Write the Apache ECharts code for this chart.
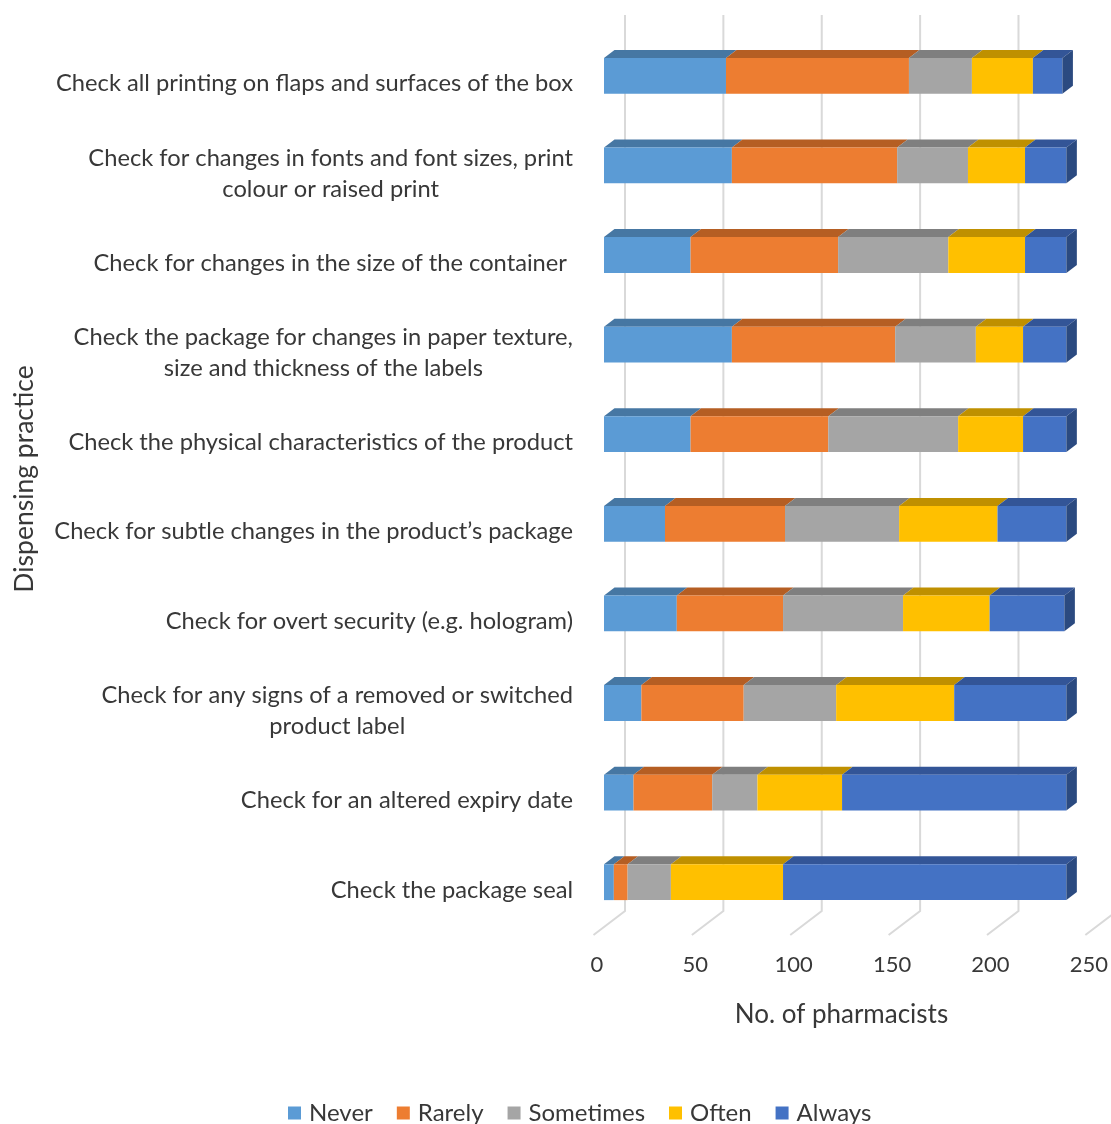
<!DOCTYPE html>
<html>
<head>
<meta charset="utf-8">
<title>Dispensing practice</title>
<script src="https://cdn.jsdelivr.net/npm/echarts@6/dist/echarts.min.js"></script>
<style>
  html, body { margin: 0; padding: 0; background: #ffffff; }
  #chart { width: 1111px; height: 1124px; }
</style>
</head>
<body>
<div id="chart"></div>
<script>
// Dispensing practices, listed top to bottom
const practices = [
  'Check all printing on flaps and surfaces of the box',
  'Check for changes in fonts and font sizes, print\ncolour or raised print',
  'Check for changes in the size of the container ',
  'Check the package for changes in paper texture,\nsize and thickness of the labels',
  'Check the physical characteristics of the product',
  'Check for subtle changes in the product\u2019s package',
  'Check for overt security (e.g. hologram)',
  'Check for any signs of a removed or switched\nproduct label',
  'Check for an altered expiry date',
  'Check the package seal'
];

// Number of pharmacists giving each answer
const levels = ['Never', 'Rarely', 'Sometimes', 'Often', 'Always'];
const never     = [62, 65, 44, 65, 44, 31, 37, 19, 15, 5];
const rarely    = [93, 84, 75, 83, 70, 61, 54, 52, 40, 7];
const sometimes = [32, 36, 56, 41, 66, 58, 61, 47, 23, 22];
const often     = [31, 29, 39, 24, 33, 50, 44, 60, 43, 57];
const always    = [15, 21, 21, 22, 22, 35, 38, 57, 114, 144];
const xTicks = [0, 50, 100, 150, 200, 250];

const levelValues = [never, rarely, sometimes, often, always];

// Face colours of the 3D blocks
const frontColors = ['#5b9bd5', '#ed7d31', '#a5a5a5', '#ffc000', '#4472c4'];
const topColors   = ['#4677a3', '#b55e23', '#7f7f7f', '#bf9000', '#335597'];
const sideColor   = '#2b4a80';

// Oblique projection offsets (pixels)
const BAR_DX = 10.5, BAR_DY = 8;     // thickness of a bar
const WALL_DX = 21, WALL_DY = 16;    // bar front plane -> back wall
const FLOOR_DX = 10.5, FLOOR_DY = 8; // bar front plane -> front edge of floor

const FONT = 'Lato, "Noto Sans", sans-serif';
const TEXT = '#383838';

// [start, end, category index] rows for one stacked level
function stackedRows(k) {
  return practices.map(function (p, i) {
    let start = 0;
    for (let j = 0; j < k; j++) start += levelValues[j][i];
    return [start, start + levelValues[k][i], i];
  });
}

function blockRenderer(k) {
  const isLast = k === levelValues.length - 1;
  return function (params, api) {
    const idx = api.value(2);
    const p0 = api.coord([api.value(0), idx]);
    const p1 = api.coord([api.value(1), idx]);
    const h = api.size([0, 1])[1] * 0.4;
    const x0 = p0[0], x1 = p1[0];
    const yT = p0[1] - h / 2, yB = p0[1] + h / 2;
    const children = [
      {
        type: 'polygon',
        shape: { points: [[x0, yT], [x1, yT], [x1 + BAR_DX, yT - BAR_DY], [x0 + BAR_DX, yT - BAR_DY]] },
        style: { fill: topColors[k] }
      },
      {
        type: 'rect',
        shape: { x: x0, y: yT, width: x1 - x0, height: h },
        style: { fill: frontColors[k] }
      }
    ];
    if (isLast) {
      children.push({
        type: 'polygon',
        shape: { points: [[x1, yT], [x1 + BAR_DX, yT - BAR_DY], [x1 + BAR_DX, yB - BAR_DY], [x1, yB]] },
        style: { fill: sideColor }
      });
    }
    return { type: 'group', children: children };
  };
}

// Back-wall gridlines that fold down onto the floor
function wallRenderer(params, api) {
  const cs = params.coordSys;
  const x = api.coord([api.value(0), 0])[0];
  const bottom = cs.y + cs.height;
  return {
    type: 'polyline',
    shape: {
      points: [
        [x + WALL_DX, cs.y - WALL_DY],
        [x + WALL_DX, bottom - WALL_DY],
        [x - FLOOR_DX, bottom + FLOOR_DY]
      ]
    },
    style: { stroke: '#d9d9d9', lineWidth: 2, fill: null }
  };
}

const series = [{
  type: 'custom',
  name: 'grid',
  silent: true,
  z: 1,
  renderItem: wallRenderer,
  encode: { x: 0, y: 1 },
  data: xTicks.map(function (v) { return [v, 0]; })
}];

levels.forEach(function (name, k) {
  series.push({
    type: 'custom',
    name: name,
    z: 2,
    renderItem: blockRenderer(k),
    itemStyle: { color: frontColors[k] },
    encode: { x: [0, 1], y: 2 },
    data: stackedRows(k)
  });
});

const chart = echarts.init(document.getElementById('chart'), null, { renderer: 'canvas' });
chart.setOption({
  animation: false,
  color: frontColors,
  textStyle: { fontFamily: FONT },
  grid: { left: 604, top: 31, width: 495, height: 896 },
  xAxis: {
    type: 'value',
    min: 0,
    max: 250,
    interval: 50,
    axisLine: { show: false },
    axisTick: { show: false },
    splitLine: { show: false },
    axisLabel: {
      margin: 27,
      fontSize: 22,
      color: TEXT,
      fontFamily: FONT,
      padding: [0, 14, 0, 0]
    },
    name: 'No. of pharmacists',
    nameLocation: 'middle',
    nameGap: 75,
    nameTextStyle: { fontSize: 26, color: TEXT, fontFamily: FONT, padding: [0, 17, 0, 0] }
  },
  yAxis: {
    type: 'category',
    inverse: true,
    data: practices,
    axisLine: { show: false },
    axisTick: { show: false },
    splitLine: { show: false },
    axisLabel: {
      margin: 31,
      fontSize: 23.7,
      lineHeight: 31,
      color: TEXT,
      fontFamily: FONT,
      align: 'right',
      padding: [16, 0, 0, 0],
      formatter: function (value) {
        return value.split('\n').map(function (line) { return '{c|' + line + '}'; }).join('\n');
      },
      rich: { c: { align: 'center', fontSize: 23.7, lineHeight: 31, color: TEXT, fontFamily: FONT } }
    },
    name: 'Dispensing practice',
    nameLocation: 'middle',
    nameRotate: 90,
    nameGap: 566,
    nameTextStyle: { fontSize: 26.5, color: TEXT, fontFamily: FONT }
  },
  legend: {
    data: levels,
    left: 288,
    top: 1101,
    padding: 0,
    icon: 'rect',
    itemWidth: 13,
    itemHeight: 13,
    itemGap: 24,
    textStyle: { fontSize: 24, color: TEXT, fontFamily: FONT, padding: [0, 0, 0, 3] }
  },
  series: series
});
</script>
</body>
</html>
